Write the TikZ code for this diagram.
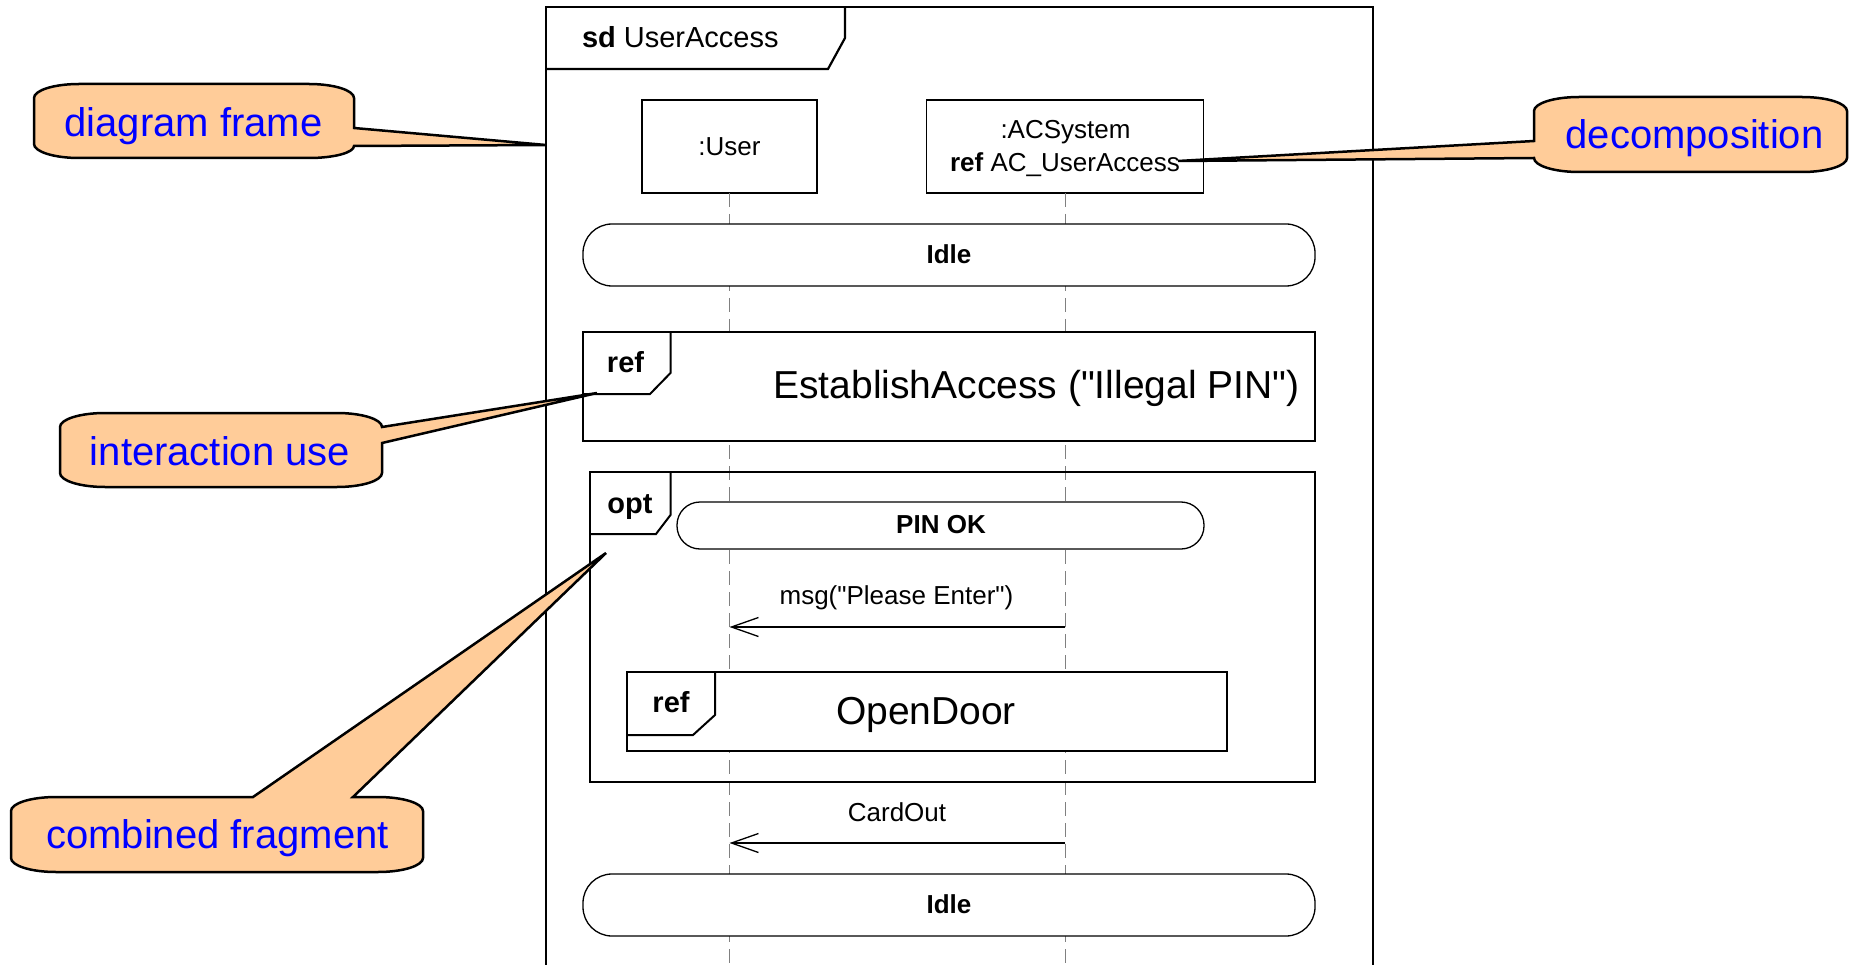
\documentclass[tikz,border=0pt]{standalone}
\usepackage{fontspec}
\setmainfont{Liberation Sans}
\usetikzlibrary{arrows.meta}
\definecolor{peach}{RGB}{255,204,153}
\definecolor{calloutblue}{RGB}{0,0,255}
\definecolor{lifegray}{RGB}{128,128,128}
\newcommand\fsz[1]{\fontsize{#1}{#1}\selectfont}
\newcommand\dq{\textquotedbl}

\begin{document}
\begin{tikzpicture}[x=1pt,y=-1pt,
  every node/.style={inner sep=0pt, outer sep=0pt},
  frameline/.style={line width=2.2pt},
  fragbox/.style={draw, line width=2.2pt, fill=white},
  optbox/.style={draw, line width=2.2pt},
  tagline/.style={line width=2pt, line join=miter},
  llbox/.style={draw, line width=1.3pt, fill=white},
  statebox/.style={draw, line width=1.3pt, fill=white, rounded corners=#1},
  lifeline/.style={draw=lifegray, line width=1.6pt, dash pattern=on 14pt off 7pt},
  msgline/.style={line width=1.3pt, -{Straight Barb[length=27pt,width=19pt,line width=1.3pt]}},
  txt/.style={anchor=base, font=\fsz{26}},
  boldtxt/.style={anchor=base, font=\fsz{26}\bfseries},
  tagtxt/.style={anchor=base, font=\fsz{29}\bfseries},
  bigtxt/.style={anchor=base, font=\fsz{39}},
  callout/.style={draw=black, line width=2.5pt, fill=peach, line join=miter},
  callouttxt/.style={anchor=base, font=\fsz{40}, text=calloutblue},
]
\useasboundingbox (0,0) rectangle (1849,965);
\clip (0,0) rectangle (1849,965);

% interaction frame with its heading
\draw[frameline] (546,985) -- (546,7) -- (1373,7) -- (1373,985);
\draw[frameline] (546,69) -- (828,69) -- (845,38) -- (845,7);
\node[anchor=base west, font=\fsz{29}] (sdname) at (582,48) {\textbf{sd} UserAccess};

% lifeline heads
\node[llbox, minimum width=175pt, minimum height=93pt] (user) at (729.5,146.5) {};
\node[txt] (userlbl) at (729.5,156) {:User};
\node[llbox, minimum width=277pt, minimum height=93pt] (acs) at (1065.3,146.5) {};
\node[txt] (acsname) at (1065.5,139) {:ACSystem};
\node[txt] (acsref) at (1065,172) {\textbf{ref} AC\_UserAccess};

% lifelines
\coordinate (bottom) at (0,975);
\draw[lifeline] (user.south) -- (user.south |- bottom);
\draw[lifeline] (acs.south) -- (acs.south |- bottom);

% first state invariant
\node[statebox=29pt, minimum width=732pt, minimum height=62pt] (idle1) at (949,255) {};
\node[boldtxt] (idle1lbl) at (949,264) {Idle};

% interaction use EstablishAccess
\node[fragbox, minimum width=732pt, minimum height=109pt] (est) at (949,386.5) {};
\draw[tagline] (583,394) -- (650,394) -- (670.5,373) -- (670.5,332);
\node[tagtxt] (estref) at (625.5,373) {ref};
\node[bigtxt] (estlbl) at (1036.5,398) {EstablishAccess (\dq Illegal PIN\dq)};

% optional combined fragment
\node[optbox, minimum width=725pt, minimum height=310pt] (opt) at (952.5,627) {};
\draw[tagline] (590,534) -- (656,534) -- (670.5,515) -- (670.5,472);
\node[tagtxt] (optlbl) at (630,513) {opt};

\node[statebox=23pt, minimum width=527pt, minimum height=47pt] (pinok) at (940.5,525.5) {};
\node[boldtxt] (pinoklbl) at (941,533) {PIN OK};

\coordinate (m1) at (0,627);
\draw[msgline] (acs.south |- m1) -- (user.south |- m1);
\node[txt] (m1lbl) at (896.5,604) {msg(\dq Please Enter\dq)};

\node[fragbox, minimum width=600pt, minimum height=79pt] (door) at (927,711.5) {};
\draw[tagline] (627,735) -- (693,735) -- (715,715) -- (715,672);
\node[tagtxt] (doorref) at (671,712) {ref};
\node[bigtxt] (doorlbl) at (926,724) {OpenDoor};

% card returned
\coordinate (m2) at (0,843);
\draw[msgline] (acs.south |- m2) -- (user.south |- m2);
\node[txt] (m2lbl) at (897,821) {CardOut};

% final state invariant
\node[statebox=29pt, minimum width=732pt, minimum height=62pt] (idle2) at (949,905) {};
\node[boldtxt] (idle2lbl) at (949,913) {Idle};

% callouts
\draw[callout] (79,84) -- (309,84)
  arc[start angle=270, end angle=360, x radius=45, y radius=14]
  -- (354,128) -- (546,145) -- (354,146)
  arc[start angle=0, end angle=90, x radius=45, y radius=12]
  -- (79,158)
  arc[start angle=90, end angle=180, x radius=45, y radius=14]
  -- (34,98)
  arc[start angle=180, end angle=270, x radius=45, y radius=14] -- cycle;
\node[callouttxt] (c1) at (193.5,137) {diagram frame};

\draw[callout] (105,413) -- (337,413)
  arc[start angle=270, end angle=360, x radius=45, y radius=14]
  -- (382,427) -- (597,393) -- (382,443) -- (382,473)
  arc[start angle=0, end angle=90, x radius=45, y radius=14]
  -- (105,487)
  arc[start angle=90, end angle=180, x radius=45, y radius=14]
  -- (60,427)
  arc[start angle=180, end angle=270, x radius=45, y radius=14] -- cycle;
\node[callouttxt] (c2) at (220,465) {interaction use};

\draw[callout] (56,797) -- (253,797) -- (606,553) -- (353,797) -- (378,797)
  arc[start angle=270, end angle=360, x radius=45, y radius=14]
  -- (423,858)
  arc[start angle=0, end angle=90, x radius=45, y radius=14]
  -- (56,872)
  arc[start angle=90, end angle=180, x radius=45, y radius=14]
  -- (11,811)
  arc[start angle=180, end angle=270, x radius=45, y radius=14] -- cycle;
\node[callouttxt] (c3) at (217.5,848) {combined fragment};

\draw[callout] (1579,97) -- (1802,97)
  arc[start angle=270, end angle=360, x radius=45, y radius=14]
  -- (1847,158)
  arc[start angle=0, end angle=90, x radius=45, y radius=14]
  -- (1579,172)
  arc[start angle=90, end angle=180, x radius=45, y radius=14]
  -- (1178,161) -- (1534,141) -- (1534,111)
  arc[start angle=180, end angle=270, x radius=45, y radius=14] -- cycle;
\node[callouttxt] (c4) at (1694.5,149) {decomposition};
\end{tikzpicture}
\end{document}
